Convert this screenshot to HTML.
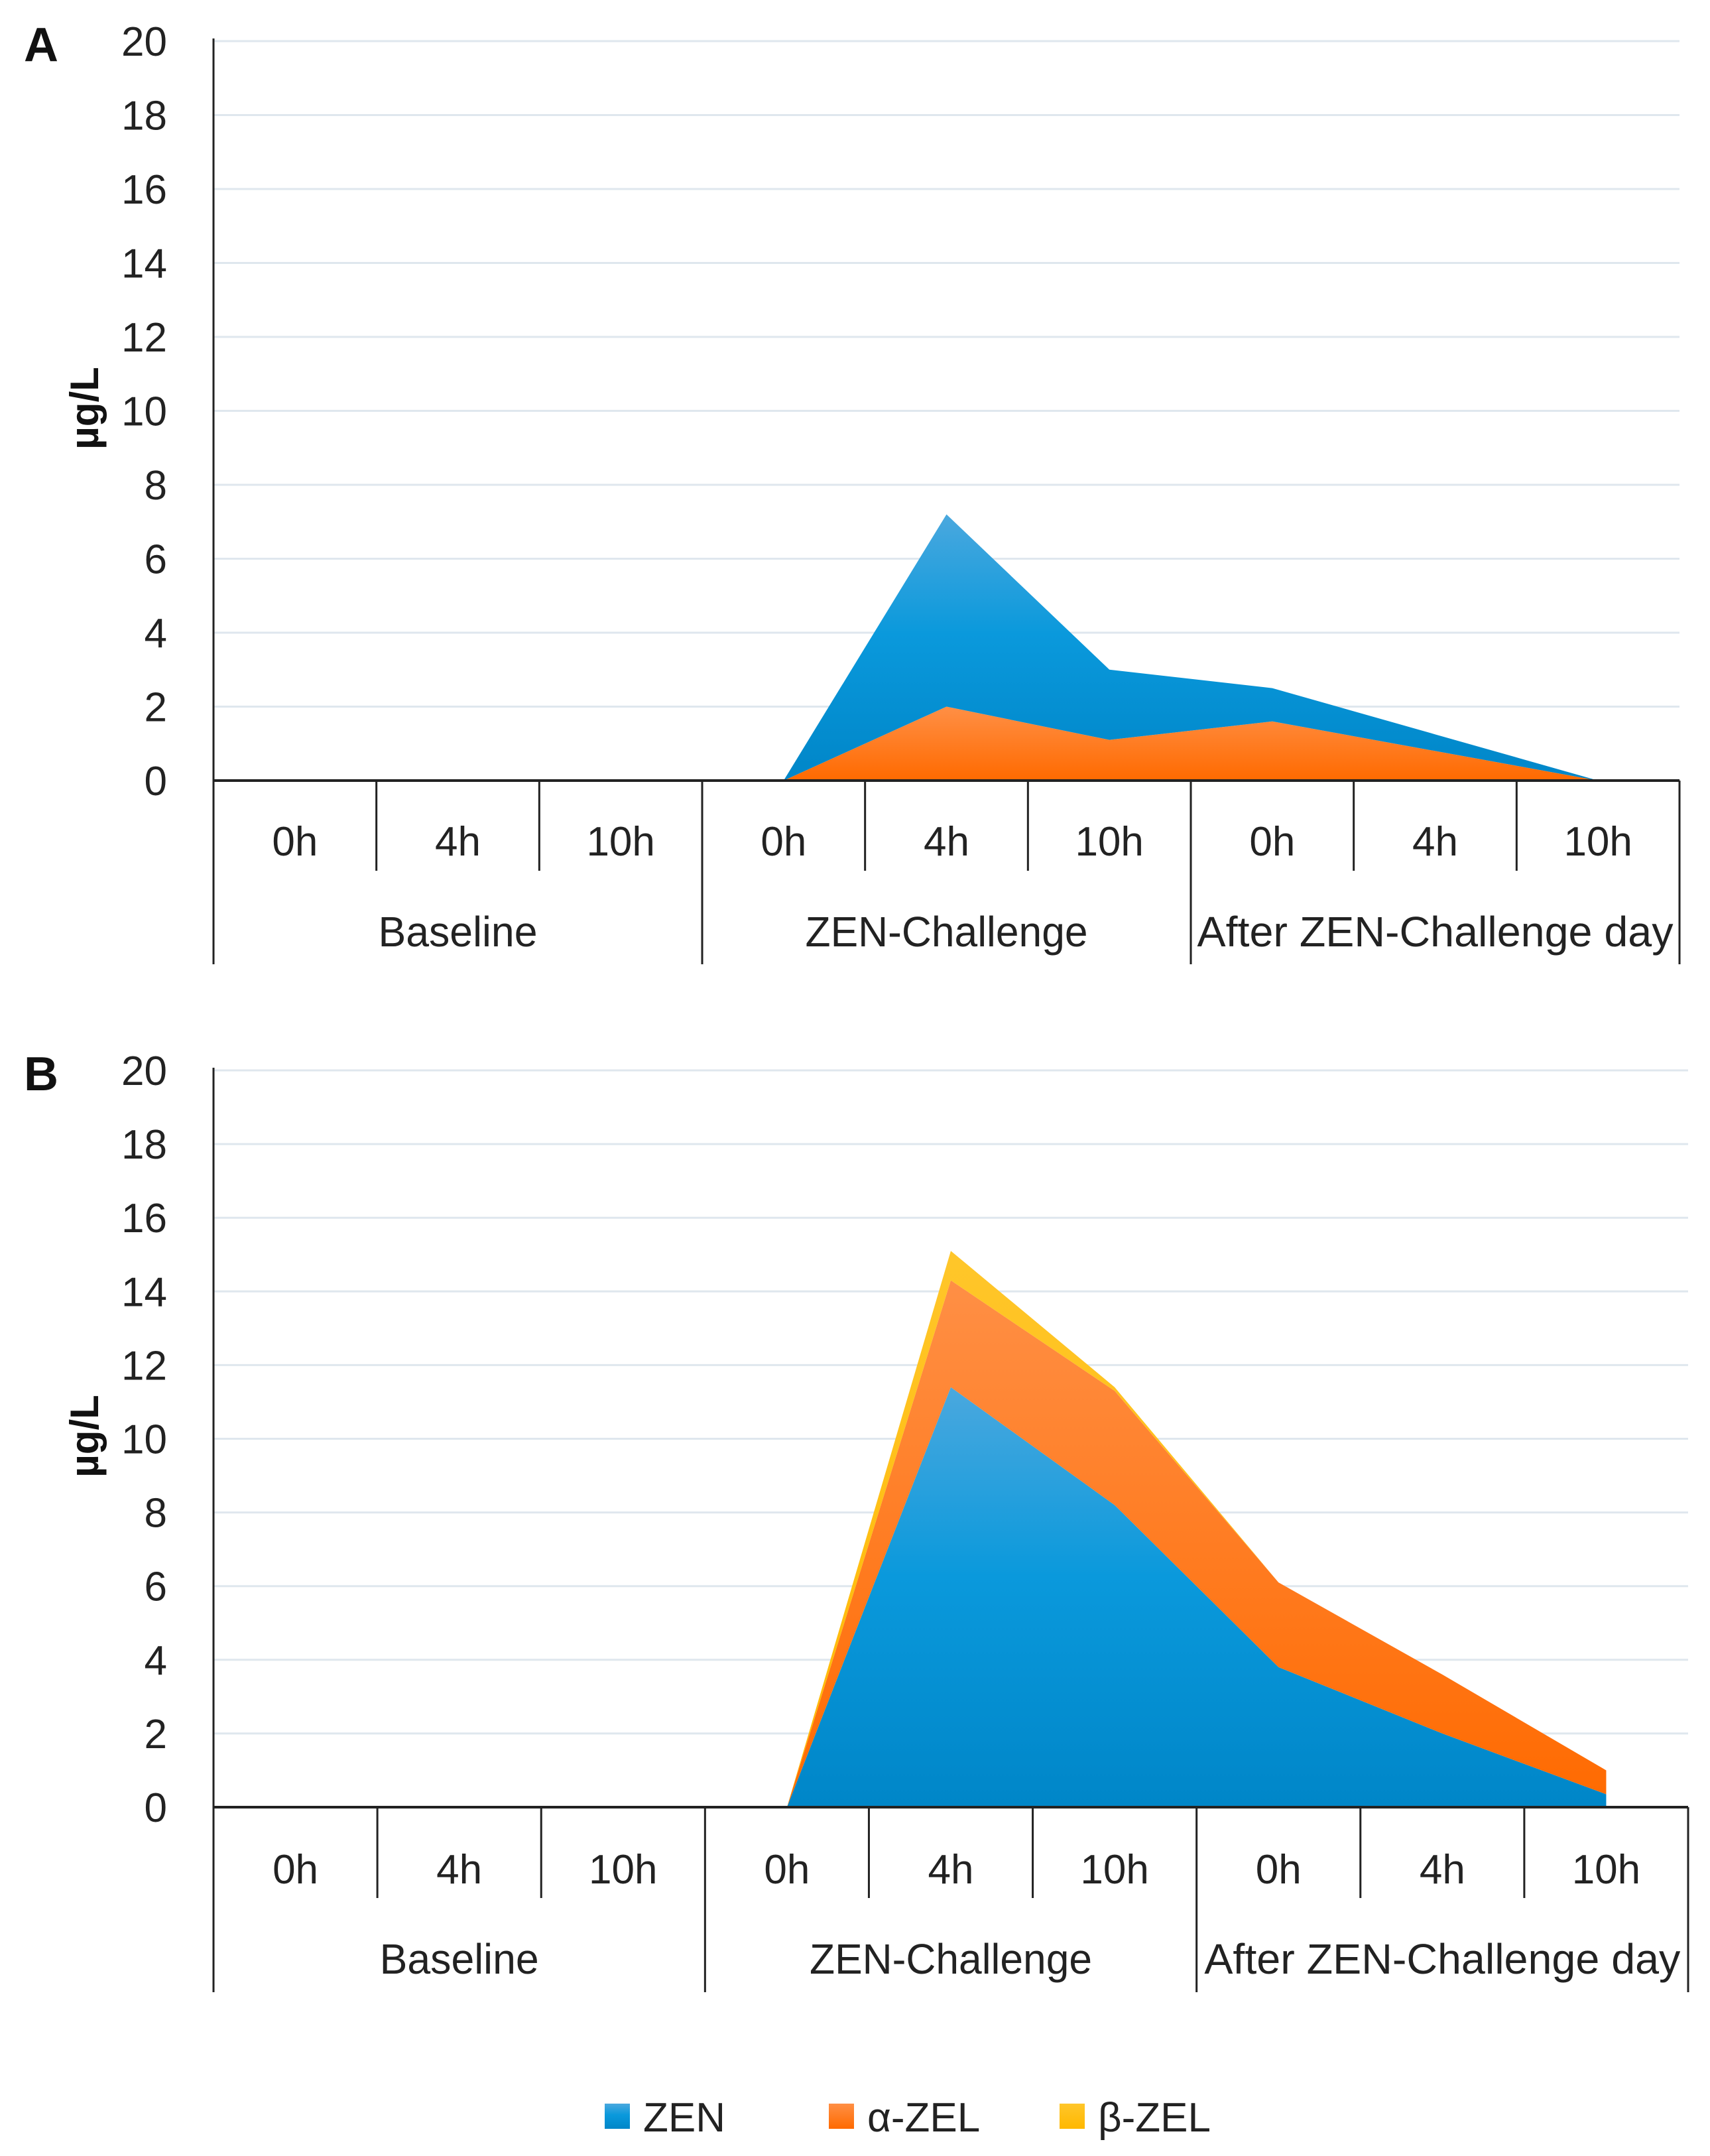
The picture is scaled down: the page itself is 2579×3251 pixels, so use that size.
<!DOCTYPE html>
<html><head><meta charset="utf-8"><style>
html,body{margin:0;padding:0;background:#fff}
svg{display:block;font-family:"Liberation Sans",sans-serif}
</style></head><body>
<svg id="chart" width="2579" height="3251" viewBox="0 0 2579 3251" xmlns="http://www.w3.org/2000/svg">
<defs>
<linearGradient id="gBlue" x1="0" y1="0" x2="0" y2="1"><stop offset="0" stop-color="#4aa8de"/><stop offset="0.45" stop-color="#0a99dc"/><stop offset="1" stop-color="#0086c8"/></linearGradient>
<linearGradient id="gOrange" x1="0" y1="0" x2="0" y2="1"><stop offset="0" stop-color="#ff8f45"/><stop offset="1" stop-color="#ff6a00"/></linearGradient>
<linearGradient id="gYellow" x1="0" y1="0" x2="0" y2="1"><stop offset="0" stop-color="#ffc62a"/><stop offset="1" stop-color="#ffb800"/></linearGradient>
</defs>
<g id="root"></g>
</svg>
<script>
const categories = ["0h","4h","10h","0h","4h","10h","0h","4h","10h"];
const groups = ["Baseline","ZEN-Challenge","After ZEN-Challenge day"];
const yTicks = [0,2,4,6,8,10,12,14,16,18,20];
const zenA = [0,0,0,0,5.2,1.9,0.9,0.45,0];
const alphaA = [0,0,0,0,2.0,1.1,1.6,0.8,0];
const betaA = [0,0,0,0,0,0,0,0,0];
const zenB = [0,0,0,0,11.4,8.2,3.8,2.0,0.35];
const alphaB = [0,0,0,0,2.9,3.1,2.3,1.6,0.65];
const betaB = [0,0,0,0,0.8,0.1,0,0,0];
const startIndex = 3;

const NS = "http://www.w3.org/2000/svg";
const root = document.getElementById('root');
function mk(tag, attrs, parent){const e=document.createElementNS(NS,tag);for(const k in attrs)e.setAttribute(k,attrs[k]);(parent||root).appendChild(e);return e;}
const groupWidths=[240,426,718];

function panel(cfg){
  const g = mk('g',{});
  
  
  const x0=cfg.x0,x1=cfg.x1,y0=cfg.y0,y20=cfg.y20;
  const cw=(x1-x0)/categories.length;
  const xs=i=>x0+cw*(i+0.5);
  const ys=v=>y0-(v/20)*(y0-y20);
  yTicks.forEach(t=>{
    if(t>0){const l=mk('line',{x1:x0,x2:x1,y1:ys(t),y2:ys(t),stroke:'#dfe7ee','stroke-width':3},g);
    
    }
    const tx=mk('text',{x:x0-70,y:ys(t)+22,'text-anchor':'end','font-size':62,fill:'#222'},g);
    
    
    tx.textContent=t;
  });
  const series=cfg.order;
  let base=categories.map(()=>0);
  series.forEach(([vals,fill,name])=>{
    const top=base.map((b,i)=>b+vals[i]);
    let d='';
    for(let i=startIndex;i<categories.length;i++)d+=(i===startIndex?'M':'L')+xs(i)+','+ys(top[i]);
    for(let i=categories.length-1;i>=startIndex;i--)d+='L'+xs(i)+','+ys(base[i]);
    d+='Z';
    const p=mk('path',{d:d,fill:fill},g);
    
    
    base=top;
  });
  const ya=mk('line',{x1:x0,x2:x0,y1:y20-4,y2:cfg.gb,stroke:'#222','stroke-width':3},g);
  
  
  const xa=mk('line',{x1:x0,x2:x1,y1:y0,y2:y0,stroke:'#222','stroke-width':4},g);
  
  
  for(let i=1;i<=categories.length;i++){
    const isG=(i%3===0);
    const l=mk('line',{x1:x0+cw*i,x2:x0+cw*i,y1:y0,y2:isG?cfg.gb:cfg.tb,stroke:'#222','stroke-width':3},g);
    
    
  }
  categories.forEach((c,i)=>{
    const t=mk('text',{x:xs(i),y:cfg.ly,'text-anchor':'middle','font-size':62,fill:'#222'},g);
    
    
    t.textContent=c;
  });
  groups.forEach((gn,j)=>{
    const t=mk('text',{x:x0+cw*(3*j+1.5),y:cfg.gy,'text-anchor':'middle','font-size':64,fill:'#222',textLength:groupWidths[j],lengthAdjust:'spacingAndGlyphs'},g);
    
    
    t.textContent=gn;
  });
  const yt=mk('text',{x:0,y:0,transform:`translate(${cfg.yt},${ys(10)-4}) rotate(-90)`,'text-anchor':'middle','font-size':60,'font-weight':'bold',fill:'#111'},g);
  
  
  yt.textContent='µg/L';
  const pl=mk('text',{x:36,y:cfg.py,'font-size':72,'font-weight':'bold',fill:'#111'},g);
  
  
  pl.textContent=cfg.label;
}
panel({name:'panel-a',label:'A',py:92,x0:322,x1:2533,y0:1177,y20:62,tb:1313,gb:1454,ly:1290,gy:1427,yt:148,
  order:[[alphaA,'url(#gOrange)','area-alpha-zel'],[zenA,'url(#gBlue)','area-zen'],[betaA,'url(#gYellow)','area-beta-zel']]});
panel({name:'panel-b',label:'B',py:1644,x0:322,x1:2546,y0:2725,y20:1614,tb:2862,gb:3004,ly:2840,gy:2976,yt:148,
  order:[[zenB,'url(#gBlue)','area-zen'],[alphaB,'url(#gOrange)','area-alpha-zel'],[betaB,'url(#gYellow)','area-beta-zel']]});

const legendItems=[["ZEN",'url(#gBlue)',912],["α-ZEL",'url(#gOrange)',1250],["β-ZEL",'url(#gYellow)',1598]];
const lg=mk('g',{});


legendItems.forEach(([n,f,x])=>{
  const r=mk('rect',{x:x,y:3172,width:38,height:38,fill:f},lg);
  
  
  const t=mk('text',{x:x+58,y:3214,'font-size':62,fill:'#222'},lg);
  
  
  t.textContent=n;
});
</script>
</body></html>
